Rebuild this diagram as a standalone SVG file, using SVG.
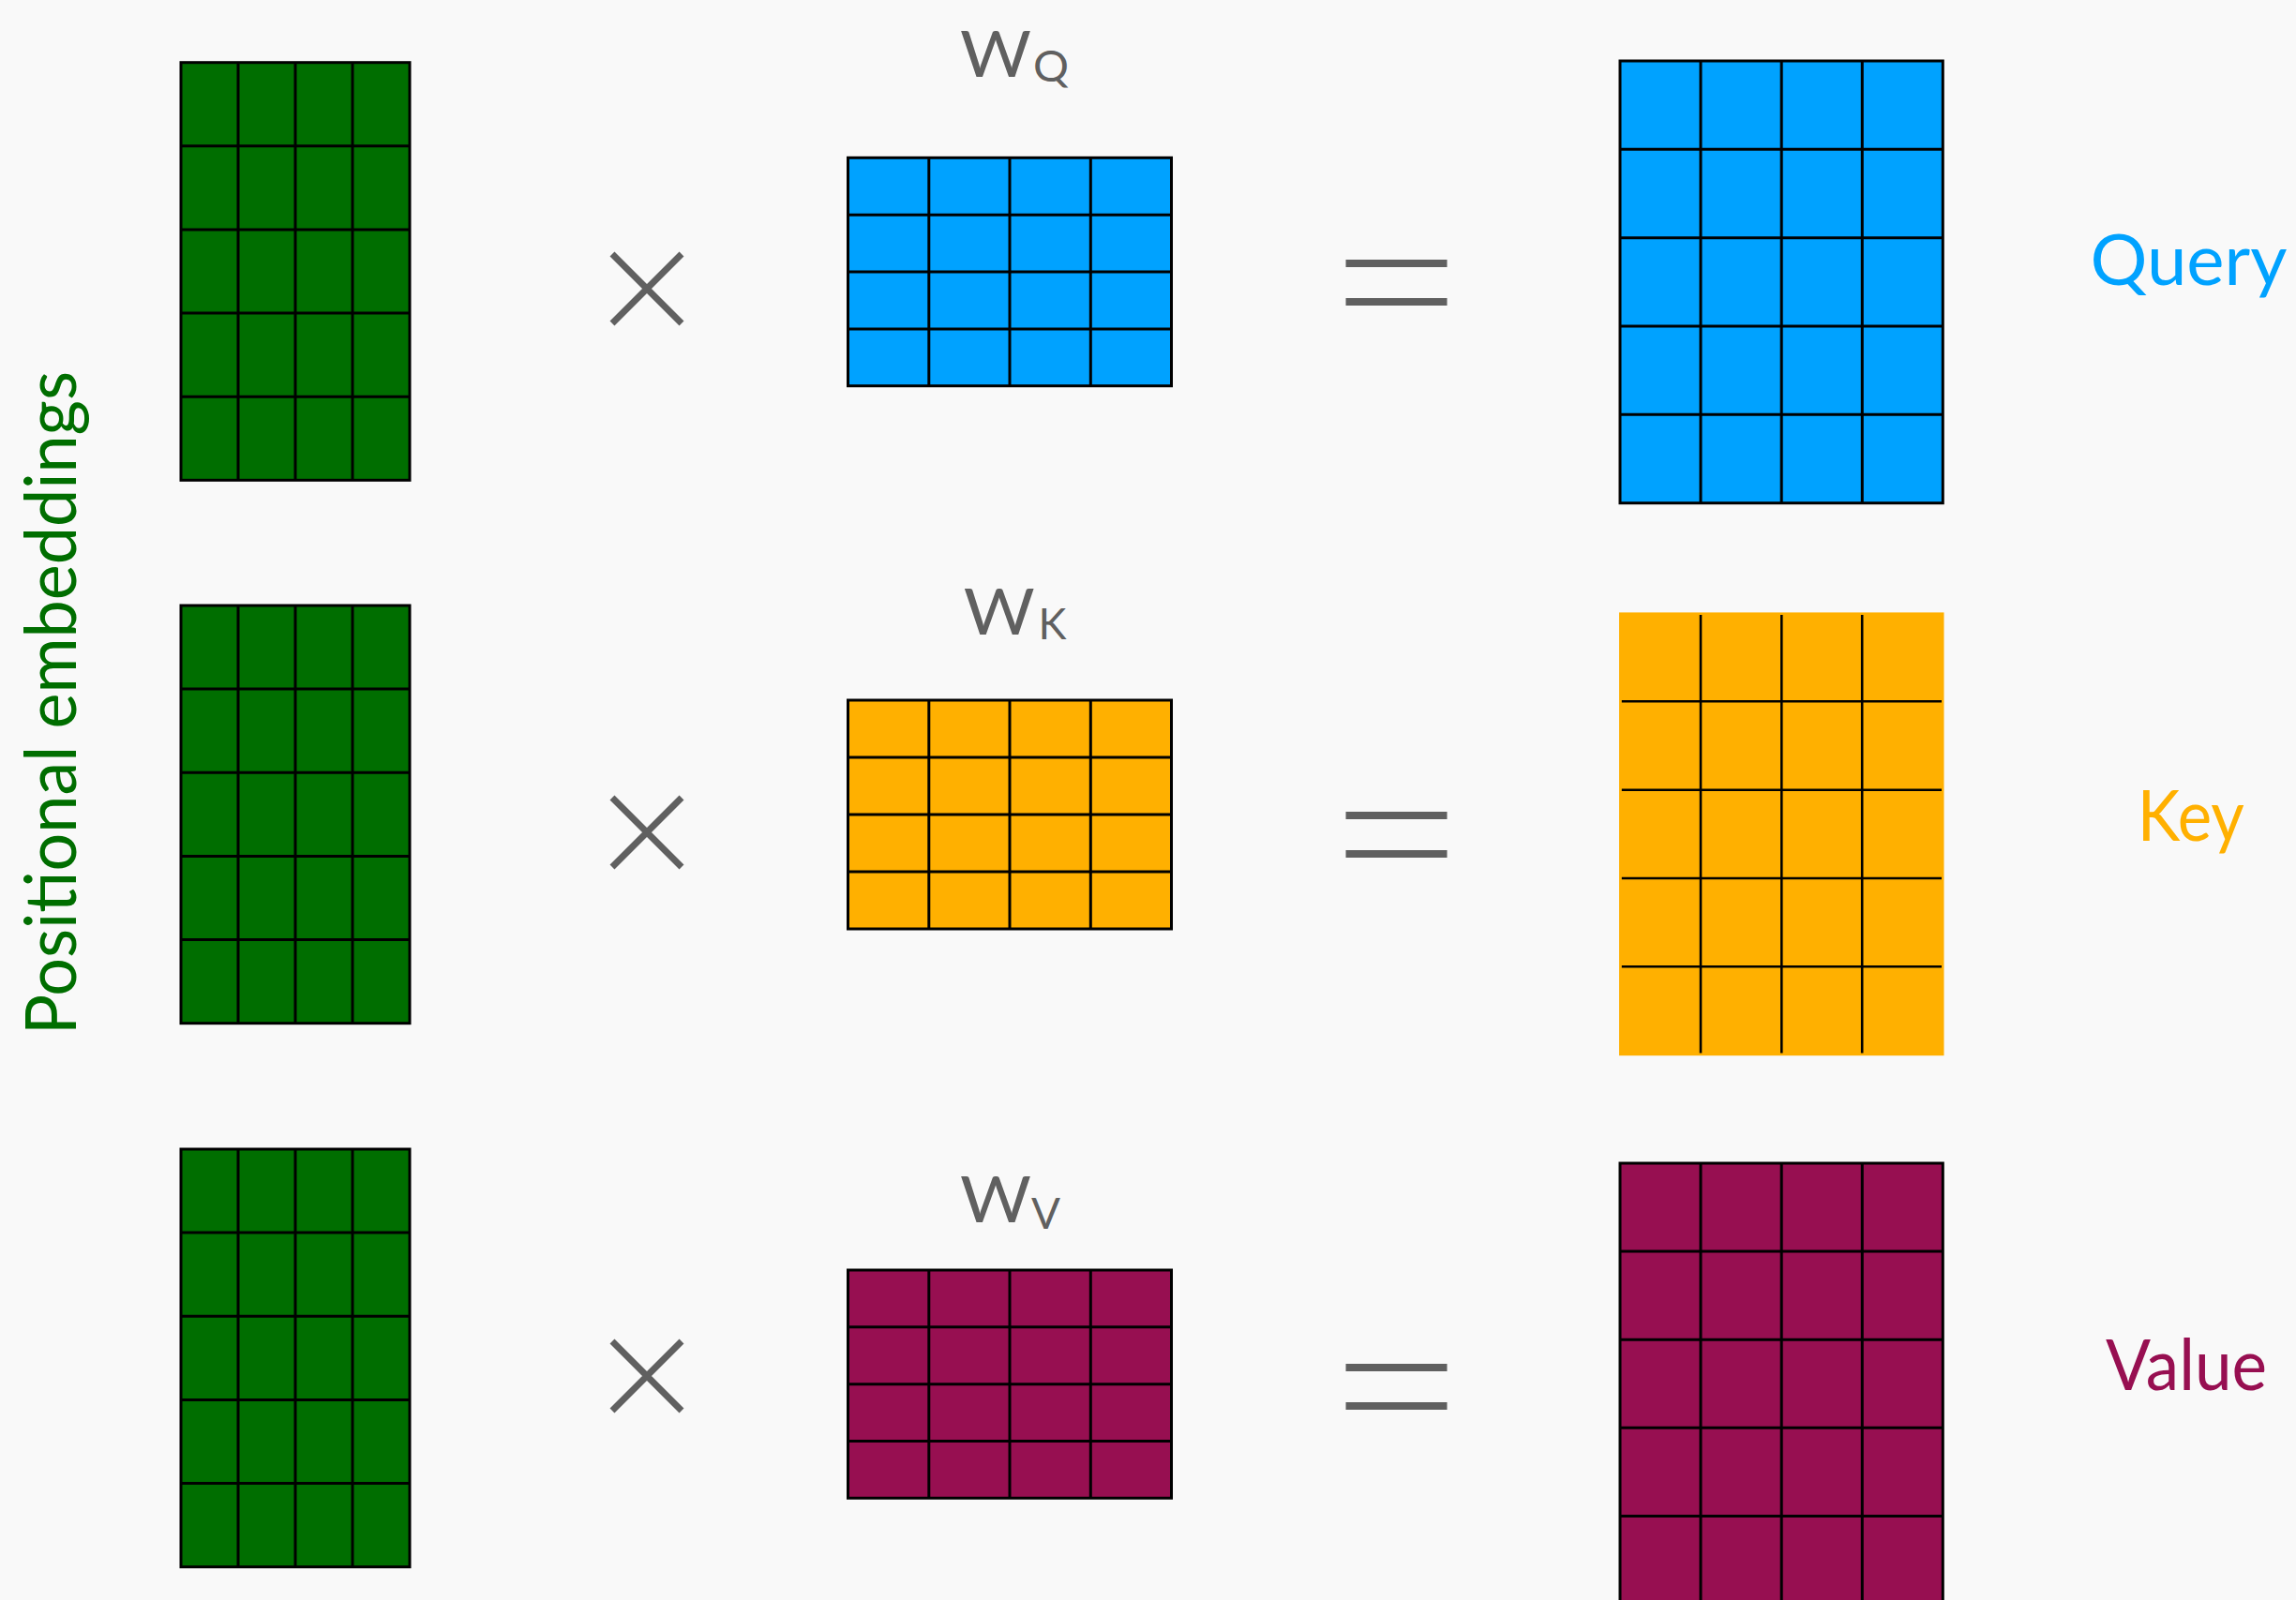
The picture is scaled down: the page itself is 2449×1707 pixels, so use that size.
<svg xmlns="http://www.w3.org/2000/svg" width="2449" height="1707" viewBox="0 0 2449 1707">
<style>
.bg{fill:#F9F9F9}
.grid{stroke:#000;stroke-width:3;fill:none}
.kgrid{stroke:#000;stroke-width:2.6;fill:none}
.green{fill:#006E00}
.blue{fill:#00A2FF}
.orange{fill:#FFB000}
.maroon{fill:#970F51}
.op{stroke:#606060;stroke-width:7;fill:none}
.eq{fill:#606060}
.lbl{font-family:Lato,"Open Sans","Liberation Sans",sans-serif;fill:#606060}
.big{font-family:Lato,"Open Sans","Liberation Sans",sans-serif;font-size:76px}
</style>
<rect class="bg" x="0" y="0" width="2449" height="1707"/>

<g id="pos-embeddings-label">
<text class="big" transform="translate(81,750) rotate(-90)" x="0" y="0" text-anchor="middle" fill="#006E00" textLength="708" lengthAdjust="spacingAndGlyphs">Positional embeddings</text>
</g>

<!-- Row 1: Query -->
<g id="X1">
<rect class="green" x="193" y="66.7" width="244" height="445.6"/>
<rect class="grid" x="193" y="66.7" width="244" height="445.6"/>
<path class="grid" d="M254,66.7V512.3M315,66.7V512.3M376,66.7V512.3M193,155.8H437M193,245H437M193,334.1H437M193,423.2H437"/>
</g>
<g id="WQ">
<rect class="blue" x="904.5" y="168.3" width="345" height="243.4"/>
<rect class="grid" x="904.5" y="168.3" width="345" height="243.4"/>
<path class="grid" d="M990.8,168.3V411.7M1077,168.3V411.7M1163.3,168.3V411.7M904.5,229.2H1249.5M904.5,290H1249.5M904.5,350.9H1249.5"/>
<text class="lbl" y="82.3"><tspan x="1024" font-size="68" textLength="76" lengthAdjust="spacingAndGlyphs">W</tspan><tspan x="1102" y="86.7" font-size="47" textLength="38" lengthAdjust="spacingAndGlyphs">Q</tspan></text>
</g>
<g id="Query">
<rect class="blue" x="1728" y="65" width="344.3" height="471.7"/>
<rect class="grid" x="1728" y="65" width="344.3" height="471.7"/>
<path class="grid" d="M1814,65V536.7M1900.2,65V536.7M1986.3,65V536.7M1728,159.3H2072.3M1728,253.7H2072.3M1728,348H2072.3M1728,442.3H2072.3"/>
<text class="big" x="2229.5" y="304" fill="#00A2FF" textLength="210" lengthAdjust="spacingAndGlyphs">Query</text>
</g>

<!-- Row 2: Key -->
<g id="X2">
<rect class="green" x="193" y="646" width="244" height="445.7"/>
<rect class="grid" x="193" y="646" width="244" height="445.7"/>
<path class="grid" d="M254,646V1091.7M315,646V1091.7M376,646V1091.7M193,735.1H437M193,824.3H437M193,913.4H437M193,1002.6H437"/>
</g>
<g id="WK">
<rect class="orange" x="904.5" y="747" width="345" height="244"/>
<rect class="grid" x="904.5" y="747" width="345" height="244"/>
<path class="grid" d="M990.8,747V991M1077,747V991M1163.3,747V991M904.5,808H1249.5M904.5,869H1249.5M904.5,930H1249.5"/>
<text class="lbl" y="676.7"><tspan x="1027.7" font-size="68" textLength="76" lengthAdjust="spacingAndGlyphs">W</tspan><tspan x="1107.6" y="681.7" font-size="47" textLength="30" lengthAdjust="spacingAndGlyphs">K</tspan></text>
</g>
<g id="Key">
<rect class="orange" x="1727" y="653.4" width="346.5" height="472.8"/>
<path class="kgrid" d="M1814,656V1123.5M1900.3,656V1123.5M1986.2,656V1123.5M1729.8,748.2H2071M1729.8,842.7H2071M1729.8,937H2071M1729.8,1031.2H2071"/>
<text class="big" x="2279.7" y="897" fill="#FFB000" textLength="114" lengthAdjust="spacingAndGlyphs">Key</text>
</g>

<!-- Row 3: Value -->
<g id="X3">
<rect class="green" x="193" y="1226" width="244" height="445.7"/>
<rect class="grid" x="193" y="1226" width="244" height="445.7"/>
<path class="grid" d="M254,1226V1671.7M315,1226V1671.7M376,1226V1671.7M193,1315.1H437M193,1404.3H437M193,1493.4H437M193,1582.6H437"/>
</g>
<g id="WV">
<rect class="maroon" x="904.5" y="1355" width="345" height="243.3"/>
<rect class="grid" x="904.5" y="1355" width="345" height="243.3"/>
<path class="grid" d="M990.8,1355V1598.3M1077,1355V1598.3M1163.3,1355V1598.3M904.5,1415.8H1249.5M904.5,1476.7H1249.5M904.5,1537.5H1249.5"/>
<text class="lbl" y="1304.3"><tspan x="1024" font-size="68" textLength="76" lengthAdjust="spacingAndGlyphs">W</tspan><tspan x="1100" y="1310.7" font-size="47" textLength="31" lengthAdjust="spacingAndGlyphs">V</tspan></text>
</g>
<g id="Value">
<rect class="maroon" x="1728" y="1241" width="344.3" height="470.5"/>
<rect class="grid" x="1728" y="1241" width="344.3" height="470.5"/>
<path class="grid" d="M1814,1241V1711.5M1900.2,1241V1711.5M1986.3,1241V1711.5M1728,1335.1H2072.3M1728,1429.2H2072.3M1728,1523.3H2072.3M1728,1617.4H2072.3"/>
<text class="big" x="2246" y="1482.7" fill="#970F51" textLength="172" lengthAdjust="spacingAndGlyphs">Value</text>
</g>

<g id="operators">
<path class="op" d="M653,271L727,345M727,271L653,345"/>
<path class="op" d="M653,851L727,925M727,851L653,925"/>
<path class="op" d="M653,1431L727,1505M727,1431L653,1505"/>
<rect class="eq" x="1435.5" y="277" width="108" height="8"/>
<rect class="eq" x="1435.5" y="318" width="108" height="8"/>
<rect class="eq" x="1435.5" y="866" width="108" height="8"/>
<rect class="eq" x="1435.5" y="907" width="108" height="8"/>
<rect class="eq" x="1435.5" y="1455" width="108" height="8"/>
<rect class="eq" x="1435.5" y="1496" width="108" height="8"/>
</g>
</svg>
